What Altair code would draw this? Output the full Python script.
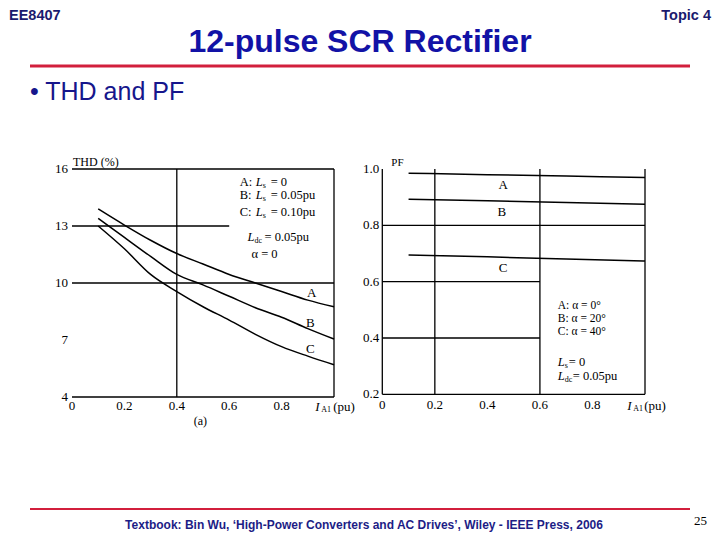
import altair as alt
import pandas as pd

# ---------------- data ----------------
thd_x = [0.1, 0.2, 0.3, 0.4, 0.5, 0.6, 0.7, 0.8, 0.9, 1.0]
thd_A = [13.9, 13.05, 12.25, 11.55, 11.0, 10.45, 10.0, 9.55, 9.1, 8.75]
thd_B = [13.4, 12.4, 11.4, 10.45, 9.9, 9.3, 8.7, 8.2, 7.6, 7.05]
thd_C = [13.0, 11.8, 10.45, 9.55, 8.75, 8.05, 7.3, 6.65, 6.15, 5.7]

pf_x = [0.1, 0.4, 0.7, 1.0]
pf_A = [0.985, 0.98, 0.975, 0.97]
pf_B = [0.893, 0.887, 0.881, 0.875]
pf_C = [0.695, 0.688, 0.680, 0.673]

series = ["A", "B", "C"]

x_ticks = [0, 0.2, 0.4, 0.6, 0.8]
x_tick_labels = ["0", "0.2", "0.4", "0.6", "0.8"]
thd_ticks = [4, 7, 10, 13, 16]
thd_tick_labels = ["4", "7", "10", "13", "16"]
pf_ticks = [0.2, 0.4, 0.6, 0.8, 1.0]
pf_tick_labels = ["0.2", "0.4", "0.6", "0.8", "1.0"]

# chart frame / grid segments (as drawn in the figure)
thd_h_y = [16, 13, 10, 4]
thd_h_x0 = [0, 0, 0, 0]
thd_h_x1 = [1.0, 0.6, 1.0, 1.0]
thd_v_x = [0.4, 1.0]
thd_v_y0 = [4, 4]
thd_v_y1 = [16, 16]

pf_h_y = [0.8, 0.6, 0.4, 0.2]
pf_h_x0 = [0, 0, 0, 0]
pf_h_x1 = [1.0, 0.6, 0.6, 1.0]
pf_v_x = [0, 0.2, 0.6, 1.0]
pf_v_y0 = [0.2, 0.2, 0.2, 0.2]
pf_v_y1 = [1.0, 1.0, 1.0, 1.0]

# curve labels
thd_lab_x = [0.915, 0.91, 0.91]
thd_lab_y = [9.45, 7.9, 6.55]
pf_lab_x = [0.46, 0.455, 0.46]
pf_lab_y = [0.943, 0.847, 0.649]

# legend texts
thd_leg_x = [0.64, 0.64, 0.64]
thd_leg_y = [15.32, 14.63, 13.75]
thd_leg_pre = ["A:", "B:", "C:"]
thd_leg_suf = ["= 0", "= 0.05pu", "= 0.10pu"]
pf_leg_x = [0.668, 0.668, 0.668]
pf_leg_y = [0.513, 0.467, 0.421]
pf_leg_text = ["A:  \u03b1 = 0\u00b0", "B:  \u03b1 = 20\u00b0", "C:  \u03b1 = 40\u00b0"]

SERIF = "Liberation Serif"
SANS = "Liberation Sans"

LX = alt.Scale(domain=[0, 1], range=[64, 326], nice=False, zero=False)
LY = alt.Scale(domain=[4, 16], range=[389, 161], nice=False, zero=False)
RX = alt.Scale(domain=[0, 1], range=[374.3, 637], nice=False, zero=False)
RY = alt.Scale(domain=[0.2, 1.0], range=[386.3, 161], nice=False, zero=False)


def X(f, s):
    return alt.X(f, scale=s, axis=None)


def Y(f, s):
    return alt.Y(f, scale=s, axis=None)


def XD(v, s):
    return alt.XDatum(v, scale=s, axis=None)


def YD(v, s):
    return alt.YDatum(v, scale=s, axis=None)


layers = []


def panel(xs, ys, hy, hx0, hx1, vx, vy0, vy1, cx, cA, cB, cC,
          yt, ytl, ybase, labx, laby, dx_ylab, dy_xlab):
    out = []
    h = pd.DataFrame({"y": hy, "x0": hx0, "x1": hx1})
    out.append(alt.Chart(h).mark_rule(color="black", strokeWidth=1.3).encode(
        x=X("x0:Q", xs), x2="x1:Q", y=Y("y:Q", ys)))
    v = pd.DataFrame({"x": vx, "y0": vy0, "y1": vy1})
    out.append(alt.Chart(v).mark_rule(color="black", strokeWidth=1.3).encode(
        x=X("x:Q", xs), y=Y("y0:Q", ys), y2="y1:Q"))
    n = len(cx)
    c = pd.DataFrame({"x": cx * 3, "y": cA + cB + cC,
                      "s": ["A"] * n + ["B"] * n + ["C"] * n})
    out.append(alt.Chart(c).mark_line(color="black", strokeWidth=1.5,
                                      interpolate="monotone").encode(
        x=X("x:Q", xs), y=Y("y:Q", ys), detail="s:N"))
    t = pd.DataFrame({"v": yt, "t": ytl})
    out.append(alt.Chart(t).mark_text(align="right", baseline="middle", dx=dx_ylab,
                                      font=SERIF, fontSize=13, color="black").encode(
        x=XD(0, xs), y=Y("v:Q", ys), text="t:N"))
    t2 = pd.DataFrame({"v": x_ticks, "t": x_tick_labels})
    out.append(alt.Chart(t2).mark_text(align="center", baseline="middle", dy=dy_xlab,
                                       font=SERIF, fontSize=13, color="black").encode(
        x=X("v:Q", xs), y=YD(ybase, ys), text="t:N"))
    lab = pd.DataFrame({"x": labx, "y": laby, "t": series})
    out.append(alt.Chart(lab).mark_text(align="center", baseline="middle",
                                        font=SERIF, fontSize=13, color="black").encode(
        x=X("x:Q", xs), y=Y("y:Q", ys), text="t:N"))
    return out


layers += panel(LX, LY, thd_h_y, thd_h_x0, thd_h_x1, thd_v_x, thd_v_y0, thd_v_y1,
                thd_x, thd_A, thd_B, thd_C, thd_ticks, thd_tick_labels, 4,
                thd_lab_x, thd_lab_y, -4, 9)
layers += panel(RX, RY, pf_h_y, pf_h_x0, pf_h_x1, pf_v_x, pf_v_y0, pf_v_y1,
                pf_x, pf_A, pf_B, pf_C, pf_ticks, pf_tick_labels, 0.2,
                pf_lab_x, pf_lab_y, -3, 11)


def txt(df, xf, yf, tf, **kw):
    base = dict(align="left", baseline="middle", font=SERIF, fontSize=12.5, color="black")
    base.update(kw)
    return alt.Chart(df).mark_text(**base).encode(x=xf, y=yf, text=tf)


# ---- left panel texts ----
lg = pd.DataFrame({"x": thd_leg_x, "y": thd_leg_y, "p": thd_leg_pre,
                   "L": ["L"] * 3, "s": ["s"] * 3, "q": thd_leg_suf})
layers.append(txt(lg, X("x:Q", LX), Y("y:Q", LY), "p:N"))
layers.append(txt(lg, X("x:Q", LX), Y("y:Q", LY), "L:N", dx=16, fontStyle="italic"))
layers.append(txt(lg, X("x:Q", LX), Y("y:Q", LY), "s:N", dx=23, dy=4, fontSize=8))
layers.append(txt(lg, X("x:Q", LX), Y("y:Q", LY), "q:N", dx=31))

ldc = pd.DataFrame({"x": [0.67], "y": [12.4], "L": ["L"], "s": ["dc"], "q": ["= 0.05pu"]})
layers.append(txt(ldc, X("x:Q", LX), Y("y:Q", LY), "L:N", fontStyle="italic"))
layers.append(txt(ldc, X("x:Q", LX), Y("y:Q", LY), "s:N", dx=7, dy=4, fontSize=8))
layers.append(txt(ldc, X("x:Q", LX), Y("y:Q", LY), "q:N", dx=17))
alp = pd.DataFrame({"x": [0.685], "y": [11.55], "t": ["\u03b1 = 0"]})
layers.append(txt(alp, X("x:Q", LX), Y("y:Q", LY), "t:N"))

thd_title = pd.DataFrame({"t": ["THD (%)"]})
layers.append(txt(thd_title, XD(0, LX), YD(16, LY), "t:N", dx=1, dy=-7, fontSize=12))

ia = pd.DataFrame({"I": ["I"], "s": ["A1"], "q": ["(pu)"], "a": ["(a)"]})
layers.append(txt(ia, XD(0.928, LX), YD(4, LY), "I:N", dy=10, fontStyle="italic", fontSize=13))
layers.append(txt(ia, XD(0.928, LX), YD(4, LY), "s:N", dx=6, dy=13, fontSize=8))
layers.append(txt(ia, XD(0.928, LX), YD(4, LY), "q:N", dx=18, dy=10, fontSize=13))
layers.append(txt(ia, XD(0.49, LX), YD(4, LY), "a:N", dy=24, align="center", fontSize=12))

# ---- right panel texts ----
pg = pd.DataFrame({"x": pf_leg_x, "y": pf_leg_y, "t": pf_leg_text})
layers.append(txt(pg, X("x:Q", RX), Y("y:Q", RY), "t:N", fontSize=11.5))
pl = pd.DataFrame({"x": [0.668, 0.668], "y": [0.316, 0.266], "L": ["L", "L"],
                   "s": ["s", "dc"], "q": ["= 0", "= 0.05pu"]})
layers.append(txt(pl, X("x:Q", RX), Y("y:Q", RY), "L:N", fontStyle="italic"))
layers.append(txt(pl, X("x:Q", RX), Y("y:Q", RY), "s:N", dx=7, dy=4, fontSize=8))
layers.append(txt(pl.iloc[[0]], X("x:Q", RX), Y("y:Q", RY), "q:N", dx=11))
layers.append(txt(pl.iloc[[1]], X("x:Q", RX), Y("y:Q", RY), "q:N", dx=15))

pf_title = pd.DataFrame({"t": ["PF"]})
layers.append(txt(pf_title, XD(0, RX), YD(1.0, RY), "t:N", dx=9, dy=-6, fontSize=11))
layers.append(txt(ia, XD(0.932, RX), YD(0.2, RY), "I:N", dy=12, fontStyle="italic", fontSize=13))
layers.append(txt(ia, XD(0.932, RX), YD(0.2, RY), "s:N", dx=6, dy=15, fontSize=8))
layers.append(txt(ia, XD(0.932, RX), YD(0.2, RY), "q:N", dx=17, dy=12, fontSize=13))


# ---- slide decoration ----
def stext(t, x, y, **kw):
    base = dict(align="left", baseline="middle", font=SANS, fontSize=14, color="#1a1a6e")
    base.update(kw)
    return alt.Chart(pd.DataFrame({"t": [t]})).mark_text(**base).encode(
        text="t:N", x=alt.value(x), y=alt.value(y))


layers.append(stext("EE8407", 1, 8, fontSize=14.5, fontWeight="bold"))
layers.append(stext("Topic 4", 703, 8, fontSize=14.5, fontWeight="bold", align="right"))
layers.append(stext("12-pulse SCR Rectifier", 352, 34, fontSize=32, fontWeight="bold",
                    align="center", color="#1212a6"))
layers.append(stext("\u2022 THD and PF", 22, 84, fontSize=25, color="#16168c"))
layers.append(stext("Textbook: Bin Wu, \u2018High-Power Converters and AC Drives\u2019, Wiley - IEEE Press, 2006",
                    356, 517, fontSize=12, fontWeight="bold", align="center", color="#1d1d86"))
layers.append(stext("25", 686, 513, fontSize=13, font=SERIF, color="black"))

red = pd.DataFrame({"k": ["top", "bottom"]})
layers.append(alt.Chart(red.iloc[[0]]).mark_rule(color="#d21f3c", strokeWidth=3).encode(
    x=alt.value(22), x2=alt.value(682), y=alt.value(58)))
layers.append(alt.Chart(red.iloc[[1]]).mark_rule(color="#d21f3c", strokeWidth=2).encode(
    x=alt.value(22), x2=alt.value(682), y=alt.value(501)))

chart = alt.layer(*layers).resolve_scale(x="independent", y="independent").properties(
    width=704, height=524, padding=0, autosize=alt.AutoSizeParams(type="none"),
    background="white",
).configure_view(stroke=None)

chart.save("out.html", embed_options={"renderer": "svg", "actions": False})
